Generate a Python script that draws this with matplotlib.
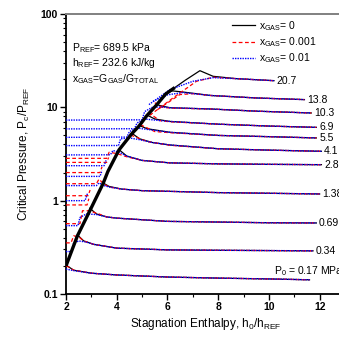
import matplotlib
matplotlib.use("Agg")
import matplotlib.pyplot as plt
import numpy as np
from matplotlib.ticker import FixedLocator, FixedFormatter, NullFormatter

plt.rcParams["font.family"] = ["Liberation Sans", "DejaVu Sans"]
plt.rcParams["mathtext.default"] = "regular"

# stagnation pressure P0 (MPa) labels, top to bottom
P0_LABELS = ["20.7", "13.8", "10.3", "6.9", "5.5", "4.1", "2.8",
             "1.38", "0.69", "0.34", "P$_0$ = 0.17 MPa"]

# saturation boundary (thick line)
SAT_H = [2.0, 2.45, 2.94, 3.46, 3.65, 4.09, 4.59, 4.88, 5.18, 5.57, 5.93, 6.29]
SAT_P = [0.2, 0.42, 0.78, 1.52, 2.05, 3.5, 5.2, 6.3, 8.1, 10.6, 13.9, 16.3]

# x_GAS = 0 curves, one per P0
BLACK_H = [
    [6.25, 6.7, 7.28, 7.8, 8.7, 10.2],
    [5.95, 6.2, 6.6, 7.7, 9.5, 11.4],
    [5.57, 5.8, 6.1, 7.7, 9.5, 11.67],
    [5.18, 5.5, 6.1, 8.0, 10.0, 11.87],
    [4.88, 5.2, 6.1, 8.0, 10.0, 11.87],
    [4.59, 4.9, 5.4, 6.1, 8.0, 10.0, 12.07],
    [4.09, 4.4, 5.0, 6.1, 8.0, 10.0, 12.07],
    [3.46, 3.7, 4.2, 5.0, 6.0, 8.0, 10.0, 12.0],
    [2.94, 3.2, 3.6, 4.0, 6.0, 8.0, 10.0, 11.87],
    [2.45, 2.7, 3.1, 4.0, 6.0, 8.0, 10.0, 11.74],
    [2.05, 2.3, 3.0, 4.0, 6.0, 8.0, 10.0, 11.6],
]
BLACK_P = [
    [16.0, 19.5, 24.7, 21.5, 20.3, 19.3],
    [14.3, 15.0, 14.6, 13.4, 12.6, 12.1],
    [10.7, 10.3, 9.9, 9.6, 9.1, 8.7],
    [8.3, 7.5, 7.06, 6.6, 6.3, 6.1],
    [6.4, 5.9, 5.4, 5.0, 4.85, 4.7],
    [5.3, 4.6, 4.2, 3.95, 3.6, 3.48, 3.38],
    [3.52, 3.0, 2.7, 2.54, 2.48, 2.45, 2.43],
    [1.55, 1.42, 1.33, 1.28, 1.26, 1.22, 1.2, 1.18],
    [0.83, 0.72, 0.67, 0.65, 0.60, 0.59, 0.58, 0.577],
    [0.43, 0.37, 0.34, 0.31, 0.297, 0.294, 0.292, 0.29],
    [0.2, 0.18, 0.167, 0.16, 0.152, 0.148, 0.145, 0.142],
]

# x_GAS = 0.01 lead-in before joining the x_GAS = 0 curve
BLUE_H = [
    [5.27, 6.1, 7.0, 7.8],
    [5.43, 6.0, 6.6],
    [2.0, 5.0, 5.1, 5.4, 5.8],
    [2.0, 4.7, 4.8, 5.1, 5.5],
    [2.0, 4.4, 4.5, 4.8, 5.2],
    [2.0, 4.07, 4.15, 4.5, 4.9],
    [2.0, 3.75, 3.85, 4.1, 4.4],
    [2.0, 3.2, 3.3, 3.5, 3.7],
    [2.0, 2.47, 2.55, 2.8, 3.2],
    [2.0, 2.2, 2.3, 2.5, 2.8],
    [2.0, 2.3],
]
BLUE_P = [
    [10.7, 15.5, 19.0, 20.8],
    [11.6, 13.6, 14.4],
    [7.3, 7.35, 9.0, 10.0, 10.1],
    [5.87, 5.9, 6.8, 7.5, 7.3],
    [4.77, 4.8, 5.5, 6.0, 5.8],
    [3.89, 3.9, 4.6, 4.7, 4.5],
    [3.09, 3.1, 3.45, 3.3, 3.0],
    [1.45, 1.45, 1.55, 1.45, 1.40],
    [0.54, 0.54, 0.66, 0.72, 0.71],
    [0.285, 0.285, 0.35, 0.37, 0.36],
    [0.185, 0.178],
]
# extra x_GAS = 0.01 liquid-side steps
BLUE_STEP_H = [[2.0, 3.34, 3.42], [2.0, 3.5, 3.58], [2.0, 2.75, 2.85]]
BLUE_STEP_P = [[1.82, 1.82, 2.1], [2.37, 2.37, 2.7], [1.0, 1.0, 1.2]]

# x_GAS = 0.001 lead-in before joining the x_GAS = 0 curve
RED_H = [
    [5.3, 6.2, 7.14, 7.8],
    [5.62, 6.49, 7.0],
    [5.5, 5.8, 6.2],
    [5.25, 5.7, 6.1],
    [4.94, 5.5, 6.1],
    [4.55, 5.2, 6.1],
    [2.0, 3.6, 3.7, 4.0, 4.4],
    [2.0, 3.2, 3.3, 3.5, 3.7],
    [2.0, 2.55, 2.65, 2.9, 3.3],
    [2.0, 2.2, 2.3, 2.5, 2.7],
    [2.0, 2.1],
]
RED_P = [
    [8.2, 12.5, 19.0, 21.0],
    [9.5, 13.7, 14.0],
    [11.2, 10.0, 9.8],
    [8.8, 7.2, 7.0],
    [6.5, 5.5, 5.35],
    [5.05, 4.3, 3.92],
    [2.84, 2.84, 3.3, 3.2, 2.95],
    [1.52, 1.52, 1.7, 1.5, 1.4],
    [0.567, 0.567, 0.78, 0.78, 0.72],
    [0.353, 0.353, 0.42, 0.41, 0.37],
    [0.2, 0.195],
]
RED_STEP_H = [[2.0, 3.34, 3.42], [2.0, 3.6, 3.68], [2.0, 2.83, 2.9], [2.0, 2.87, 2.95]]
RED_STEP_P = [[2.0, 2.0, 2.3], [2.57, 2.57, 2.9], [0.9, 0.9, 1.05], [1.13, 1.13, 1.3]]


def join(lead_h, lead_p, bh, bp):
    h, p = list(lead_h), list(lead_p)
    for x, y in zip(bh, bp):
        if x > lead_h[-1]:
            h.append(x)
            p.append(y)
    return h, p


fig = plt.figure(figsize=(3.39, 3.40), dpi=100)
ax = fig.add_axes([66 / 339, 1 - 294 / 340, 279 / 339, 280 / 340])

blue_ls = (0, (1, 0.8))
red_ls = (0, (3, 2))
for i in range(len(P0_LABELS)):
    ax.plot(BLACK_H[i], BLACK_P[i], color="black", lw=0.9, zorder=2)
    rh, rp = join(RED_H[i], RED_P[i], BLACK_H[i], BLACK_P[i])
    ax.plot(rh, rp, color="red", lw=0.9, ls=red_ls, zorder=3)
    bh, bp = join(BLUE_H[i], BLUE_P[i], BLACK_H[i], BLACK_P[i])
    ax.plot(bh, bp, color="blue", lw=1.0, ls=blue_ls, zorder=4)
for h, p in zip(RED_STEP_H, RED_STEP_P):
    ax.plot(h, p, color="red", lw=0.9, ls=red_ls, zorder=3)
for h, p in zip(BLUE_STEP_H, BLUE_STEP_P):
    ax.plot(h, p, color="blue", lw=1.0, ls=blue_ls, zorder=4)

ax.plot(SAT_H, SAT_P, color="black", lw=2.4, zorder=5, solid_capstyle="butt")

# P0 labels at the end of each curve
for i, lab in enumerate(P0_LABELS[:-1]):
    ax.annotate(lab, (BLACK_H[i][-1], BLACK_P[i][-1]), xytext=(2, 0),
                textcoords="offset points", ha="left", va="center",
                fontsize=7.5, annotation_clip=False)
ax.text(10.19, 0.175, P0_LABELS[-1], ha="left", va="center", fontsize=7.5)

# legend
ax.plot([], [], color="black", lw=0.9, label="x$_{GAS}$= 0")
ax.plot([], [], color="red", lw=0.9, ls=red_ls, label="x$_{GAS}$= 0.001")
ax.plot([], [], color="blue", lw=1.0, ls=blue_ls, label="x$_{GAS}$= 0.01")
ax.legend(loc="upper left", bbox_to_anchor=(0.587, 0.99), frameon=False,
          fontsize=7.5, handlelength=2.2, handletextpad=0.4,
          labelspacing=0.25, borderpad=0.2, borderaxespad=0)

ax.text(0.022, 0.879, "P$_{REF}$= 689.5 kPa", transform=ax.transAxes,
        fontsize=7.5, va="center")
ax.text(0.022, 0.825, "h$_{REF}$= 232.6 kJ/kg", transform=ax.transAxes,
        fontsize=7.5, va="center")
ax.text(0.022, 0.768, "x$_{GAS}$=G$_{GAS}$/G$_{TOTAL}$", transform=ax.transAxes,
        fontsize=7.5, va="center")

ax.set_yscale("log")
ax.set_ylim(0.1, 100)
ax.set_xlim(2, 13)
ax.xaxis.set_major_locator(FixedLocator([2, 4, 6, 8, 10, 12]))
ax.xaxis.set_minor_locator(FixedLocator([3, 5, 7, 9, 11, 13]))
ax.yaxis.set_major_locator(FixedLocator([0.1, 1, 10, 100]))
ax.yaxis.set_major_formatter(FixedFormatter(["0.1", "1", "10", "100"]))
ax.yaxis.set_minor_formatter(NullFormatter())
ax.tick_params(which="both", direction="out", top=False, right=False)
ax.tick_params(which="major", length=4, width=1, labelsize=7.5, pad=2)
ax.tick_params(which="minor", length=2, width=0.8)
for lab in ax.get_xticklabels() + ax.get_yticklabels():
    lab.set_fontweight("bold")

ax.spines["top"].set_color("#808080")
ax.spines["top"].set_linewidth(1.4)
ax.spines["right"].set_visible(False)
ax.spines["left"].set_linewidth(1.3)
ax.spines["bottom"].set_linewidth(1.3)

ax.set_xlabel("Stagnation Enthalpy, h$_0$/h$_{REF}$", fontsize=8.5, labelpad=3)
ax.set_ylabel("Critical Pressure, P$_c$/P$_{REF}$", fontsize=8.5, labelpad=6)

fig.savefig("out.png", dpi=100)
